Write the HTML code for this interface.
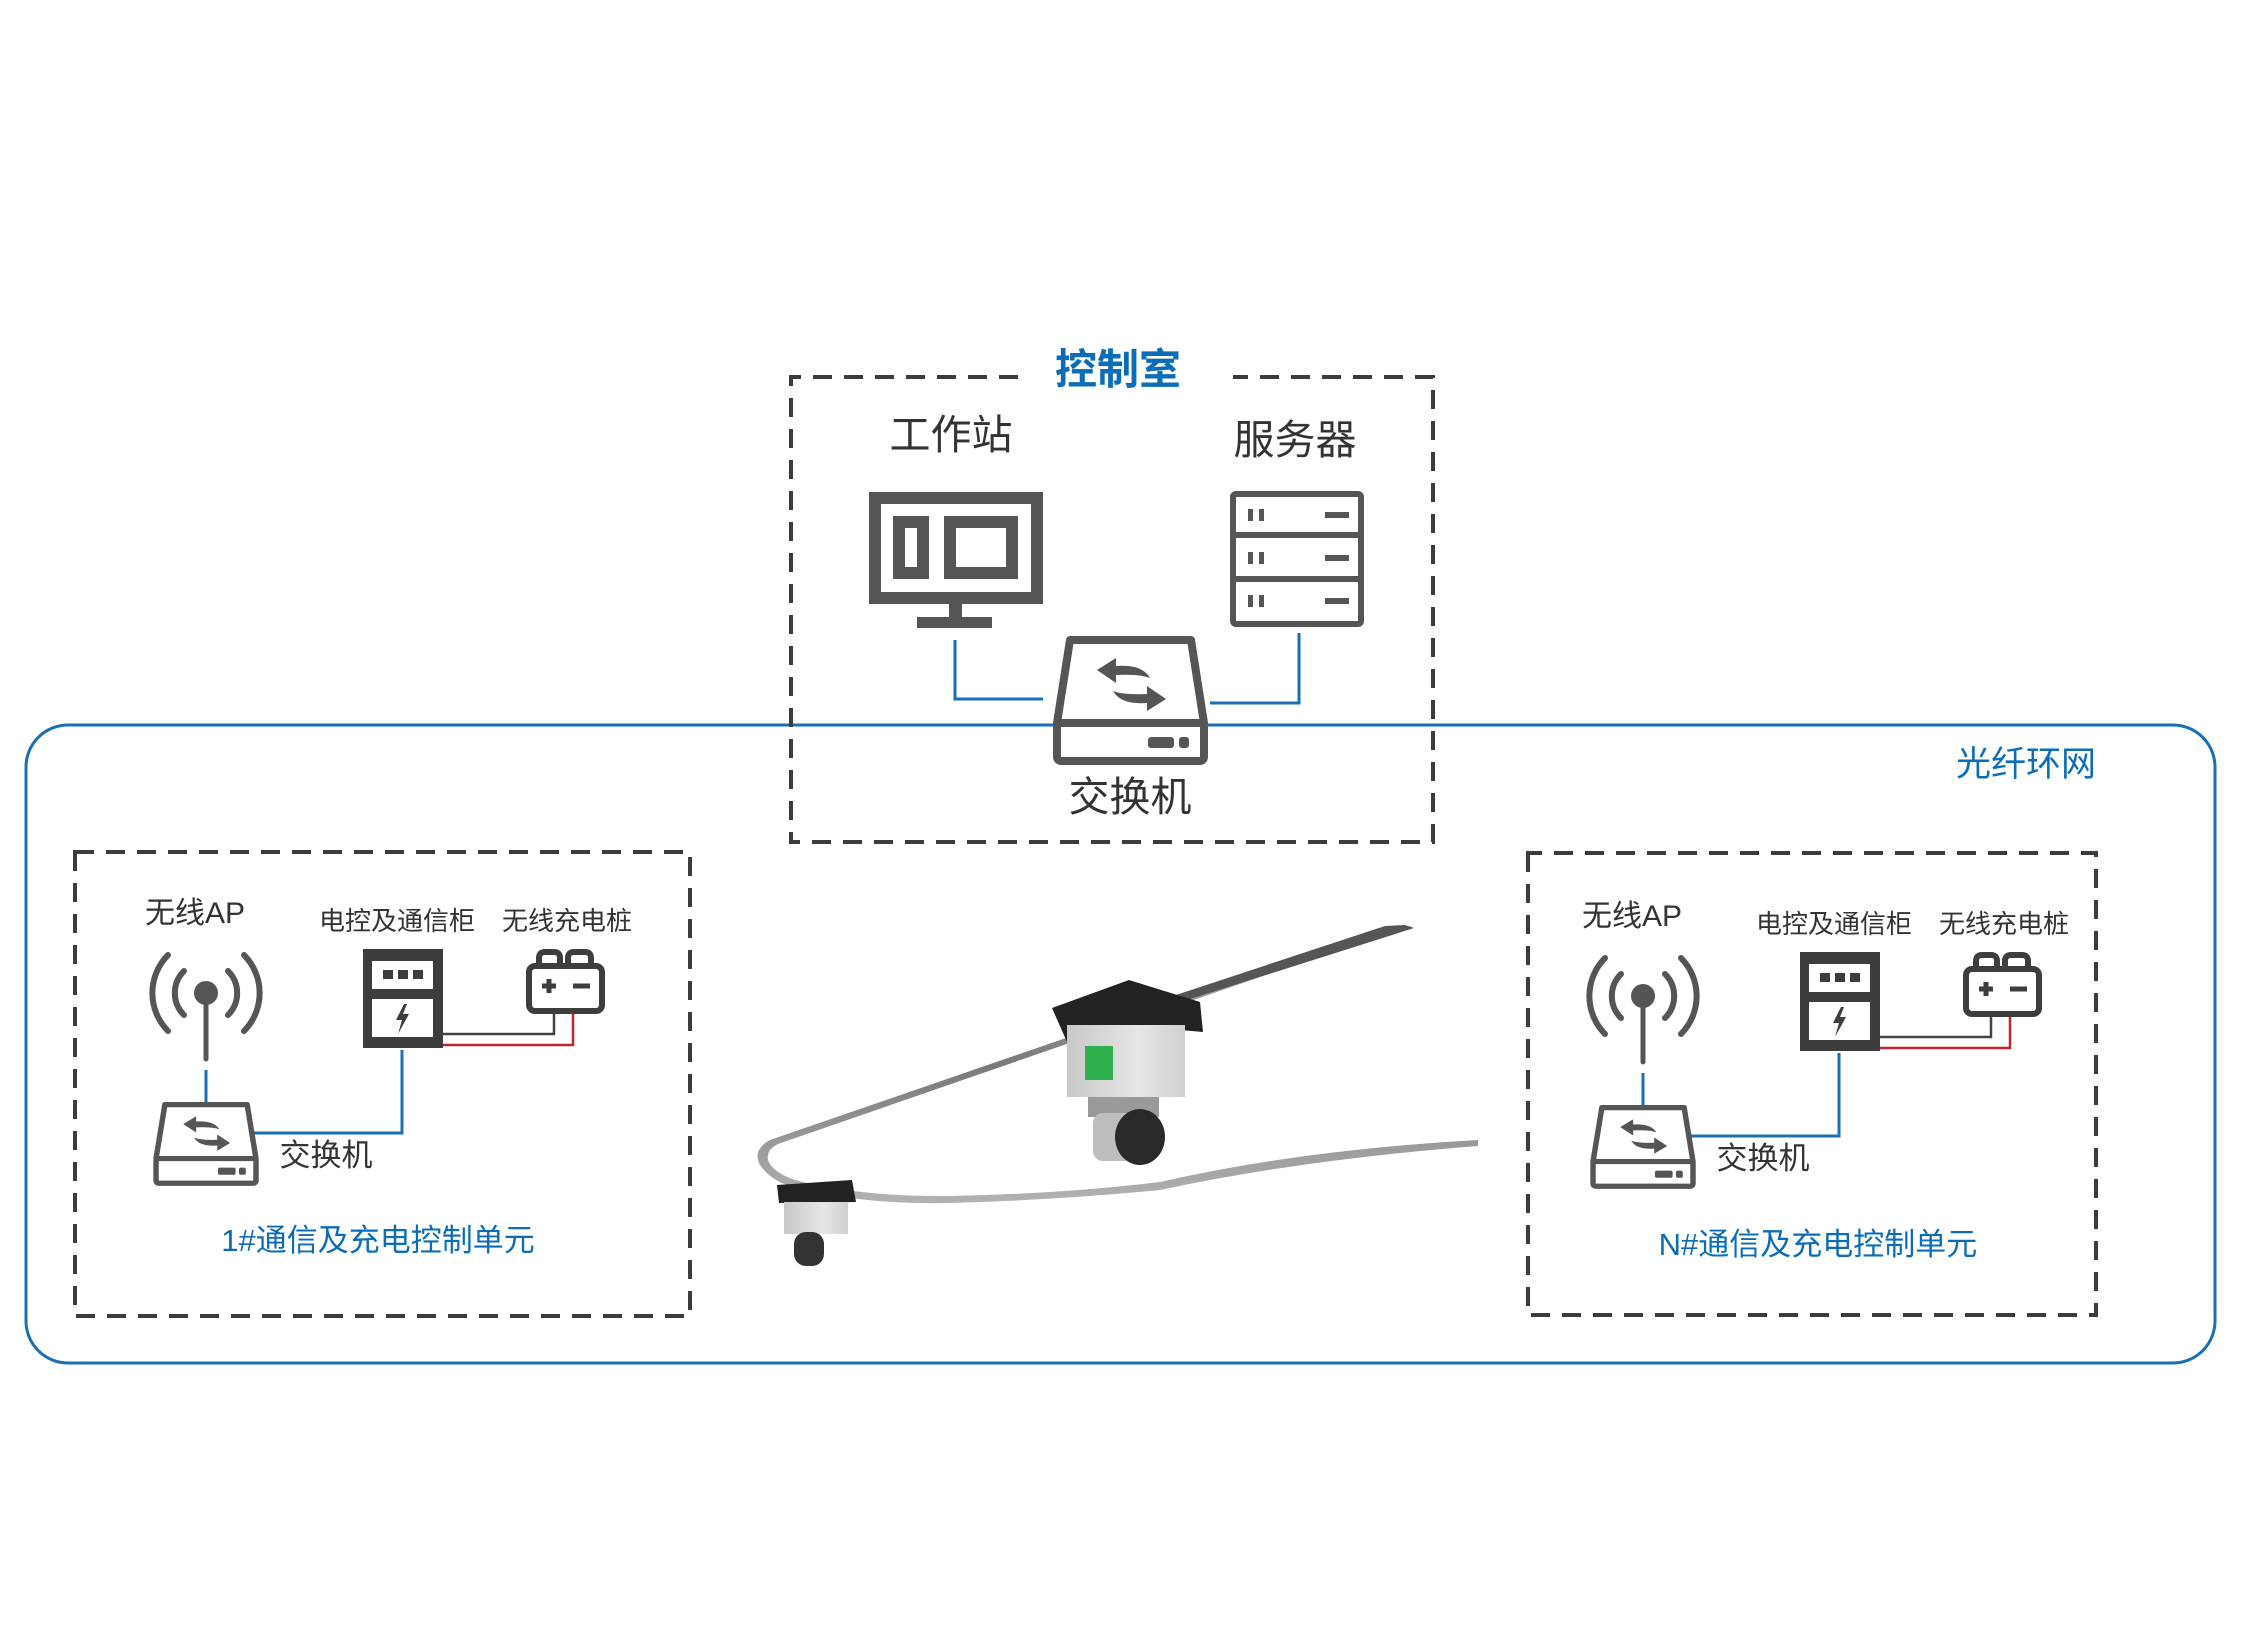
<!DOCTYPE html>
<html><head><meta charset="utf-8"><style>
html,body{margin:0;padding:0;background:#fff;}
svg{display:block;}
text{font-family:"Liberation Sans","Noto Sans CJK SC",sans-serif;}
</style></head><body>
<svg width="2254" height="1651" viewBox="0 0 2254 1651" xmlns="http://www.w3.org/2000/svg">
<defs>
<linearGradient id="cab" x1="0" y1="0" x2="0" y2="1">
<stop offset="0" stop-color="#bbb"/><stop offset="0.5" stop-color="#6a6a6a"/><stop offset="1" stop-color="#aaa"/>
</linearGradient>
<linearGradient id="body" x1="0" y1="0" x2="1" y2="0">
<stop offset="0" stop-color="#c8c8c8"/><stop offset="0.6" stop-color="#e6e6e6"/><stop offset="1" stop-color="#d0d0d0"/>
</linearGradient>
<g id="sw">
<path d="M16 4 L137 4 L150 87 L3 87 Z" fill="#fff" stroke="#555" stroke-width="8" stroke-linejoin="round"/>
<rect x="3" y="87" width="147" height="38" rx="4" fill="#fff" stroke="#555" stroke-width="8"/>
<rect x="94" y="101" width="26" height="11" rx="3" fill="#555"/>
<rect x="125" y="101" width="10" height="11" rx="3" fill="#555"/>
<path d="M43 34 L62 22 L62 30 Q88 28 96 42 Q86 38 62 39 L62 47 Z" fill="#555"/>
<path d="M112 63 L93 75 L93 67 Q67 69 59 55 Q69 59 93 58 L93 50 Z" fill="#555"/>
</g>
<g id="ant" fill="none" stroke="#555" stroke-width="6" stroke-linecap="round">
<circle cx="0" cy="0" r="12" fill="#555" stroke="none"/>
<line x1="0" y1="0" x2="0" y2="66" stroke-width="5"/>
<path d="M-22 -22 A31 31 0 0 0 -22 22"/>
<path d="M22 -22 A31 31 0 0 1 22 22"/>
<path d="M-38 -38 A54 54 0 0 0 -38 38"/>
<path d="M38 -38 A54 54 0 0 1 38 38"/>
</g>
<g id="unit">
<use href="#ant" transform="translate(206,993)"/>
<line x1="206" y1="1070" x2="206" y2="1103" stroke="#1a6fb5" stroke-width="3"/>
<rect x="363" y="949" width="80" height="99" fill="#3d3d3d"/>
<rect x="372" y="961" width="61" height="28" fill="#fff"/>
<rect x="372" y="999" width="61" height="38" fill="#fff"/>
<rect x="383" y="970" width="10" height="9" fill="#3d3d3d"/>
<rect x="398" y="970" width="10" height="9" fill="#3d3d3d"/>
<rect x="413" y="970" width="10" height="9" fill="#3d3d3d"/>
<path d="M404 1004 L396 1020 L402 1020 L398 1034 L409 1014 L403 1014 L407 1004 Z" fill="#3d3d3d"/>
<path d="M539 966 L539 958 Q539 952 545 952 L554 952 Q560 952 560 958 L560 966 M568 966 L568 958 Q568 952 574 952 L585 952 Q591 952 591 958 L591 966" fill="none" stroke="#3d3d3d" stroke-width="6"/>
<rect x="529" y="966" width="73" height="45" rx="6" fill="#fff" stroke="#3d3d3d" stroke-width="6"/>
<path d="M549 979 V993 M542 986 H556" stroke="#3d3d3d" stroke-width="5"/>
<path d="M573 986 H590" stroke="#3d3d3d" stroke-width="5"/>
<path d="M443 1034 H554 V1014" fill="none" stroke="#444" stroke-width="2.5"/>
<path d="M443 1045 H573 V1014" fill="none" stroke="#c0272d" stroke-width="2.5"/>
<path d="M402 1050 V1133 H253" fill="none" stroke="#1a6fb5" stroke-width="3"/>
<use href="#sw" transform="translate(154,1102) scale(0.68,0.65)"/>
<text x="195" y="923" font-size="30" text-anchor="middle" fill="#333">无线AP</text>
<text x="397" y="930" font-size="26" text-anchor="middle" fill="#333">电控及通信柜</text>
<text x="567" y="930" font-size="26" text-anchor="middle" fill="#333">无线充电桩</text>
<text x="326" y="1166" font-size="31" text-anchor="middle" fill="#333">交换机</text>
</g>
</defs>

<rect x="26" y="725" width="2189" height="638" rx="42" fill="none" stroke="#1a6fb5" stroke-width="3"/>
<text x="2026" y="776" font-size="35" text-anchor="middle" fill="#0b6db7">光纤环网</text>

<g fill="none" stroke="#3c3c3c" stroke-width="4" stroke-dasharray="19 12">
<path d="M1018 377 H791 V842 H1433 V377 H1233"/>
<path d="M75 852 V1316 H690 V852 Z"/>
<path d="M1528 853 V1315 H2096 V853 Z"/>
</g>
<text x="1118" y="384" font-size="42" font-weight="bold" text-anchor="middle" fill="#0b6db7">控制室</text>
<text x="951" y="449" font-size="41" text-anchor="middle" fill="#333">工作站</text>
<text x="1295" y="454" font-size="41" text-anchor="middle" fill="#333">服务器</text>

<rect x="875" y="498" width="162" height="100" fill="none" stroke="#555" stroke-width="12"/>
<rect x="899" y="522" width="24" height="51" fill="none" stroke="#555" stroke-width="12"/>
<rect x="950" y="522" width="62" height="51" fill="none" stroke="#555" stroke-width="12"/>
<rect x="949" y="604" width="13" height="14" fill="#555"/>
<rect x="917" y="617" width="75" height="11" fill="#555"/>
<rect x="1233" y="494" width="128" height="130" rx="3" fill="#fff" stroke="#555" stroke-width="6"/>
<line x1="1233" y1="535" x2="1361" y2="535" stroke="#555" stroke-width="6"/>
<line x1="1233" y1="579" x2="1361" y2="579" stroke="#555" stroke-width="6"/>
<g fill="#555">
<rect x="1248" y="509" width="5" height="12"/><rect x="1259" y="509" width="5" height="12"/><rect x="1325" y="512" width="24" height="6"/>
<rect x="1248" y="552" width="5" height="12"/><rect x="1259" y="552" width="5" height="12"/><rect x="1325" y="555" width="24" height="6"/>
<rect x="1248" y="595" width="5" height="12"/><rect x="1259" y="595" width="5" height="12"/><rect x="1325" y="598" width="24" height="6"/>
</g>
<path d="M955 640 V699 H1043" fill="none" stroke="#1a6fb5" stroke-width="3"/>
<path d="M1299 633 V703 H1210" fill="none" stroke="#1a6fb5" stroke-width="3"/>
<use href="#sw" transform="translate(1054,636)"/>
<text x="1130" y="811" font-size="41" text-anchor="middle" fill="#333">交换机</text>

<use href="#unit"/>
<text x="378" y="1251" font-size="31" text-anchor="middle" fill="#0b6db7">1#通信及充电控制单元</text>
<use href="#unit" transform="translate(1437,3)"/>
<text x="1818" y="1255" font-size="31" text-anchor="middle" fill="#0b6db7">N#通信及充电控制单元</text>

<g>
<path d="M1414 926 L1385 928 L770 1140 Q752 1150 760 1165 Q770 1180 790 1186 Q860 1205 950 1203 Q1060 1200 1160 1190 Q1300 1160 1478 1146 L1478 1140 Q1300 1150 1160 1182 Q1060 1194 950 1196 Q860 1197 795 1180 Q772 1172 768 1160 Q766 1150 778 1144 L1390 932 Z" fill="url(#cab)" opacity="0.9"/>
<path d="M1405 925 L1385 926 L1100 1020 L1102 1027 L1414 928 Z" fill="#555"/>
<path d="M1052 1008 L1129 980 L1200 1002 L1203 1032 L1123 1025 L1067 1042 Z" fill="#222"/>
<rect x="1067" y="1025" width="118" height="72" fill="url(#body)"/>
<rect x="1085" y="1046" width="28" height="34" fill="#2eb04c"/>
<rect x="1088" y="1097" width="71" height="20" fill="#9a9a9a"/>
<rect x="1093" y="1113" width="46" height="48" rx="10" fill="#bdbdbd"/>
<ellipse cx="1140" cy="1137" rx="25" ry="28" fill="#2a2a2a"/>
<path d="M777 1185 L852 1180 L856 1202 L779 1203 Z" fill="#222"/>
<rect x="784" y="1202" width="64" height="32" fill="url(#body)"/>
<rect x="794" y="1232" width="30" height="34" rx="12" fill="#333"/>
</g>
</svg>
</body></html>
